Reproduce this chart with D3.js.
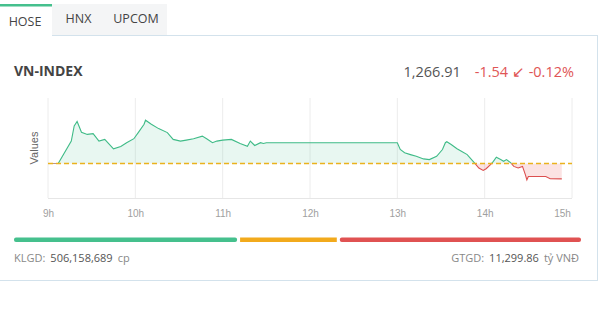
<!DOCTYPE html>
<html>
<head>
<meta charset="utf-8">
<script src="https://cdn.jsdelivr.net/npm/d3@7/dist/d3.min.js"></script>
<style>
  body { margin: 0; background: #fff; }
  svg { display: block; font-family: "Open Sans", sans-serif; }
</style>
</head>
<body>
<svg id="chart" width="608" height="309"></svg>
<script>
// Intraday VN-INDEX points (time, index value)
var times = ["09:00","09:07","09:16","09:18","09:20","09:23","09:27","09:31","09:35","09:39",
  "09:45","09:50","09:54","09:59","10:02","10:06","10:07","10:11","10:16","10:22",
  "10:26","10:31","10:35","10:40","10:46","10:49","10:53","10:56","11:00","11:06",
  "11:12","11:17","11:19","11:22","11:26","11:28","11:30","13:00","13:02","13:05",
  "13:09","13:13","13:18","13:22","13:27","13:31","13:33","13:34","13:37","13:41",
  "13:44","13:48","13:51","13:53","13:56","13:59","14:01","14:04","14:06","14:08",
  "14:11","14:13","14:15","14:18","14:20","14:23","14:26","14:28","14:29","14:30",
  "14:42","14:45","14:53"];
var values = [1268.45,1268.45,1270.69,1272.20,1272.65,1271.57,1271.36,1271.43,1270.69,1270.86,
  1269.92,1270.15,1270.53,1270.93,1271.54,1272.37,1272.78,1272.37,1271.94,1271.54,
  1270.86,1270.69,1270.79,1270.93,1271.19,1270.93,1270.53,1270.69,1270.79,1270.86,
  1270.45,1270.18,1270.69,1270.25,1270.53,1270.45,1270.53,1270.53,1269.85,1269.52,
  1269.34,1269.17,1268.91,1268.84,1269.17,1269.85,1270.53,1270.63,1270.35,1269.92,
  1269.68,1269.34,1268.84,1268.51,1268.00,1267.76,1267.93,1268.33,1268.67,1269.07,
  1268.84,1268.67,1268.84,1268.51,1268.16,1268.00,1268.16,1267.32,1266.82,1267.15,
  1267.15,1266.92,1266.91];

// previous close (dashed line)
var refValue = 1268.45;

// x axis ticks
var tickHours = [9, 10, 11, 12, 13, 14, 15];

// tabs
var tabs = ["HOSE", "HNX", "UPCOM"];

// market breadth bar widths (up / unchanged / down)
var breadthLabels = ["up", "flat", "down"];
var breadthValues = [223, 99, 241];
var breadthColors = ["#45c08d", "#f2aa1c", "#e05252"];

var svg = d3.select("#chart");
var parseTime = d3.timeParse("%H:%M");
var data = times.map((t, i) => ({ t: parseTime(t), v: values[i] }));
var fmt = f => s => d3.format(f)(s).replace("\u2212", "-");

// card frame
svg.append("rect")
  .attr("x", -2).attr("y", 35.5)
  .attr("width", 599.5).attr("height", 245)
  .attr("fill", "#fff")
  .attr("stroke", "#d3e2ec");

// tabs
var tabX = [0, 52, 105];
var tabW = [52, 53, 62];
svg.append("rect")
  .attr("x", 52).attr("y", 4)
  .attr("width", 115).attr("height", 31)
  .attr("fill", "#f4f5f6");
svg.append("rect")
  .attr("x", 0).attr("y", 4)
  .attr("width", 52).attr("height", 32)
  .attr("fill", "#fff");
svg.append("rect")
  .attr("x", 0).attr("y", 4)
  .attr("width", 52).attr("height", 2.5)
  .attr("fill", "#45c08d");

svg.selectAll("text.tab")
  .data(tabs)
  .enter().append("text")
  .attr("class", "tab")
  .attr("x", (d, i) => tabX[i] + tabW[i] / 2 + (i == 0 ? -1 : 0))
  .attr("y", (d, i) => i == 0 ? 26 : 23)
  .attr("text-anchor", "middle")
  .attr("font-size", 12.5)
  .attr("fill", "#444")
  .text(d => d);

// header
svg.append("text")
  .attr("x", 14).attr("y", 76)
  .attr("font-size", 14)
  .attr("font-weight", "bold")
  .attr("fill", "#444")
  .text("VN-INDEX");

var lastValue = values[values.length - 1];
var change = lastValue - refValue;
var head = svg.append("text")
  .attr("x", 574).attr("y", 77)
  .attr("text-anchor", "end")
  .attr("font-size", 14.5);
head.append("tspan")
  .attr("fill", "#555")
  .text(fmt(",.2f")(lastValue));
head.append("tspan")
  .attr("dx", 14)
  .attr("fill", "#e05555")
  .text(fmt(".2f")(change) + " \u2199 " + fmt(".2f")(change / refValue * 100) + "%");

// plot
var plotLeft = 48, plotRight = 572, plotTop = 98, plotBottom = 198;

var x = d3.scaleTime()
  .domain([parseTime("09:00"), parseTime("15:00")])
  .range([plotLeft, plotRight]);
var y = d3.scaleLinear()
  .domain([1265, 1275])
  .range([plotBottom, plotTop]);

var g = svg.append("g");

// vertical grid
g.selectAll("line.grid")
  .data(tickHours)
  .enter().append("line")
  .attr("class", "grid")
  .attr("x1", d => x(parseTime(d + ":00")))
  .attr("x2", d => x(parseTime(d + ":00")))
  .attr("y1", plotTop).attr("y2", plotBottom)
  .attr("stroke", "#ececec");

g.append("line")
  .attr("x1", plotLeft).attr("x2", plotRight)
  .attr("y1", plotBottom + 0.5).attr("y2", plotBottom + 0.5)
  .attr("stroke", "#e6e6e6");

// x axis labels
var xAxis = d3.axisBottom(x)
  .tickValues(tickHours.map(h => parseTime(h + ":00")))
  .tickSize(0)
  .tickFormat(d => d.getHours() + "h");

var ax = g.append("g")
  .attr("transform", "translate(0," + (plotBottom + 9) + ")")
  .call(xAxis);
ax.select(".domain").remove();
ax.selectAll("text")
  .attr("font-family", "'Liberation Sans', Arial, sans-serif")
  .attr("font-size", 10)
  .attr("fill", "#a0a0a0");
ax.selectAll(".tick:last-of-type text").attr("dx", -10);

// y axis title
svg.append("text")
  .attr("transform", "translate(38," + ((plotTop + plotBottom) / 2) + ") rotate(-90)")
  .attr("text-anchor", "middle")
  .attr("font-family", "'Liberation Sans', Arial, sans-serif")
  .attr("font-size", 11)
  .attr("fill", "#666")
  .text("Values");

// clip regions above / below reference
var refY = y(refValue);
var defs = svg.append("defs");
defs.append("clipPath").attr("id", "above")
  .append("rect")
  .attr("x", plotLeft).attr("y", 0)
  .attr("width", plotRight - plotLeft).attr("height", refY);
defs.append("clipPath").attr("id", "below")
  .append("rect")
  .attr("x", plotLeft).attr("y", refY)
  .attr("width", plotRight - plotLeft).attr("height", 309 - refY);

var area = d3.area()
  .x(d => x(d.t))
  .y0(refY)
  .y1(d => y(d.v));
var line = d3.line()
  .x(d => x(d.t))
  .y(d => y(d.v));

var parts = [
  { clip: "above", fill: "rgba(69,192,141,0.12)", stroke: "#3fbb87" },
  { clip: "below", fill: "rgba(230,90,90,0.17)", stroke: "#dc4f4f" }
];

parts.forEach(p => {
  g.append("path")
    .datum(data)
    .attr("clip-path", "url(#" + p.clip + ")")
    .attr("fill", p.fill)
    .attr("d", area);
});

parts.forEach(p => {
  g.append("path")
    .datum(data)
    .attr("clip-path", "url(#" + p.clip + ")")
    .attr("fill", "none")
    .attr("stroke", p.stroke)
    .attr("stroke-width", 1.1)
    .attr("d", line);
});

// reference dashed line
g.append("line")
  .attr("x1", plotLeft).attr("x2", plotRight)
  .attr("y1", refY).attr("y2", refY)
  .attr("stroke", "#eab21e")
  .attr("stroke-width", 1.3)
  .attr("stroke-dasharray", "5,3");

// breadth bar
var bx = d3.scaleLinear()
  .domain([0, d3.sum(breadthValues)])
  .range([14, 581]);
var starts = d3.cumsum([0].concat(breadthValues));
svg.selectAll("rect.breadth")
  .data(breadthValues)
  .enter().append("rect")
  .attr("class", "breadth")
  .attr("x", (d, i) => bx(starts[i]) + (i > 0 ? 1.5 : 0))
  .attr("y", 237.5)
  .attr("width", (d, i) => bx(d) - bx(0) - (i > 0 ? 1.5 : 0) - (i < 2 ? 1.5 : 0))
  .attr("height", 4.5)
  .attr("rx", (d, i) => i == 1 ? 0 : 2)
  .attr("fill", (d, i) => breadthColors[i]);

// footer
var kl = svg.append("text")
  .attr("x", 14).attr("y", 262)
  .attr("font-size", 11)
  .attr("fill", "#888");
kl.append("tspan").text("KLGD:");
kl.append("tspan").attr("dx", 5).attr("fill", "#555").text("506,158,689");
kl.append("tspan").attr("dx", 5).text("cp");

var gt = svg.append("text")
  .attr("x", 579).attr("y", 262)
  .attr("text-anchor", "end")
  .attr("font-size", 11)
  .attr("fill", "#888");
gt.append("tspan").text("GTGD:");
gt.append("tspan").attr("dx", 5).attr("fill", "#555").text("11,299.86");
gt.append("tspan").attr("dx", 5).text("tỷ VNĐ");
</script>
</body>
</html>
